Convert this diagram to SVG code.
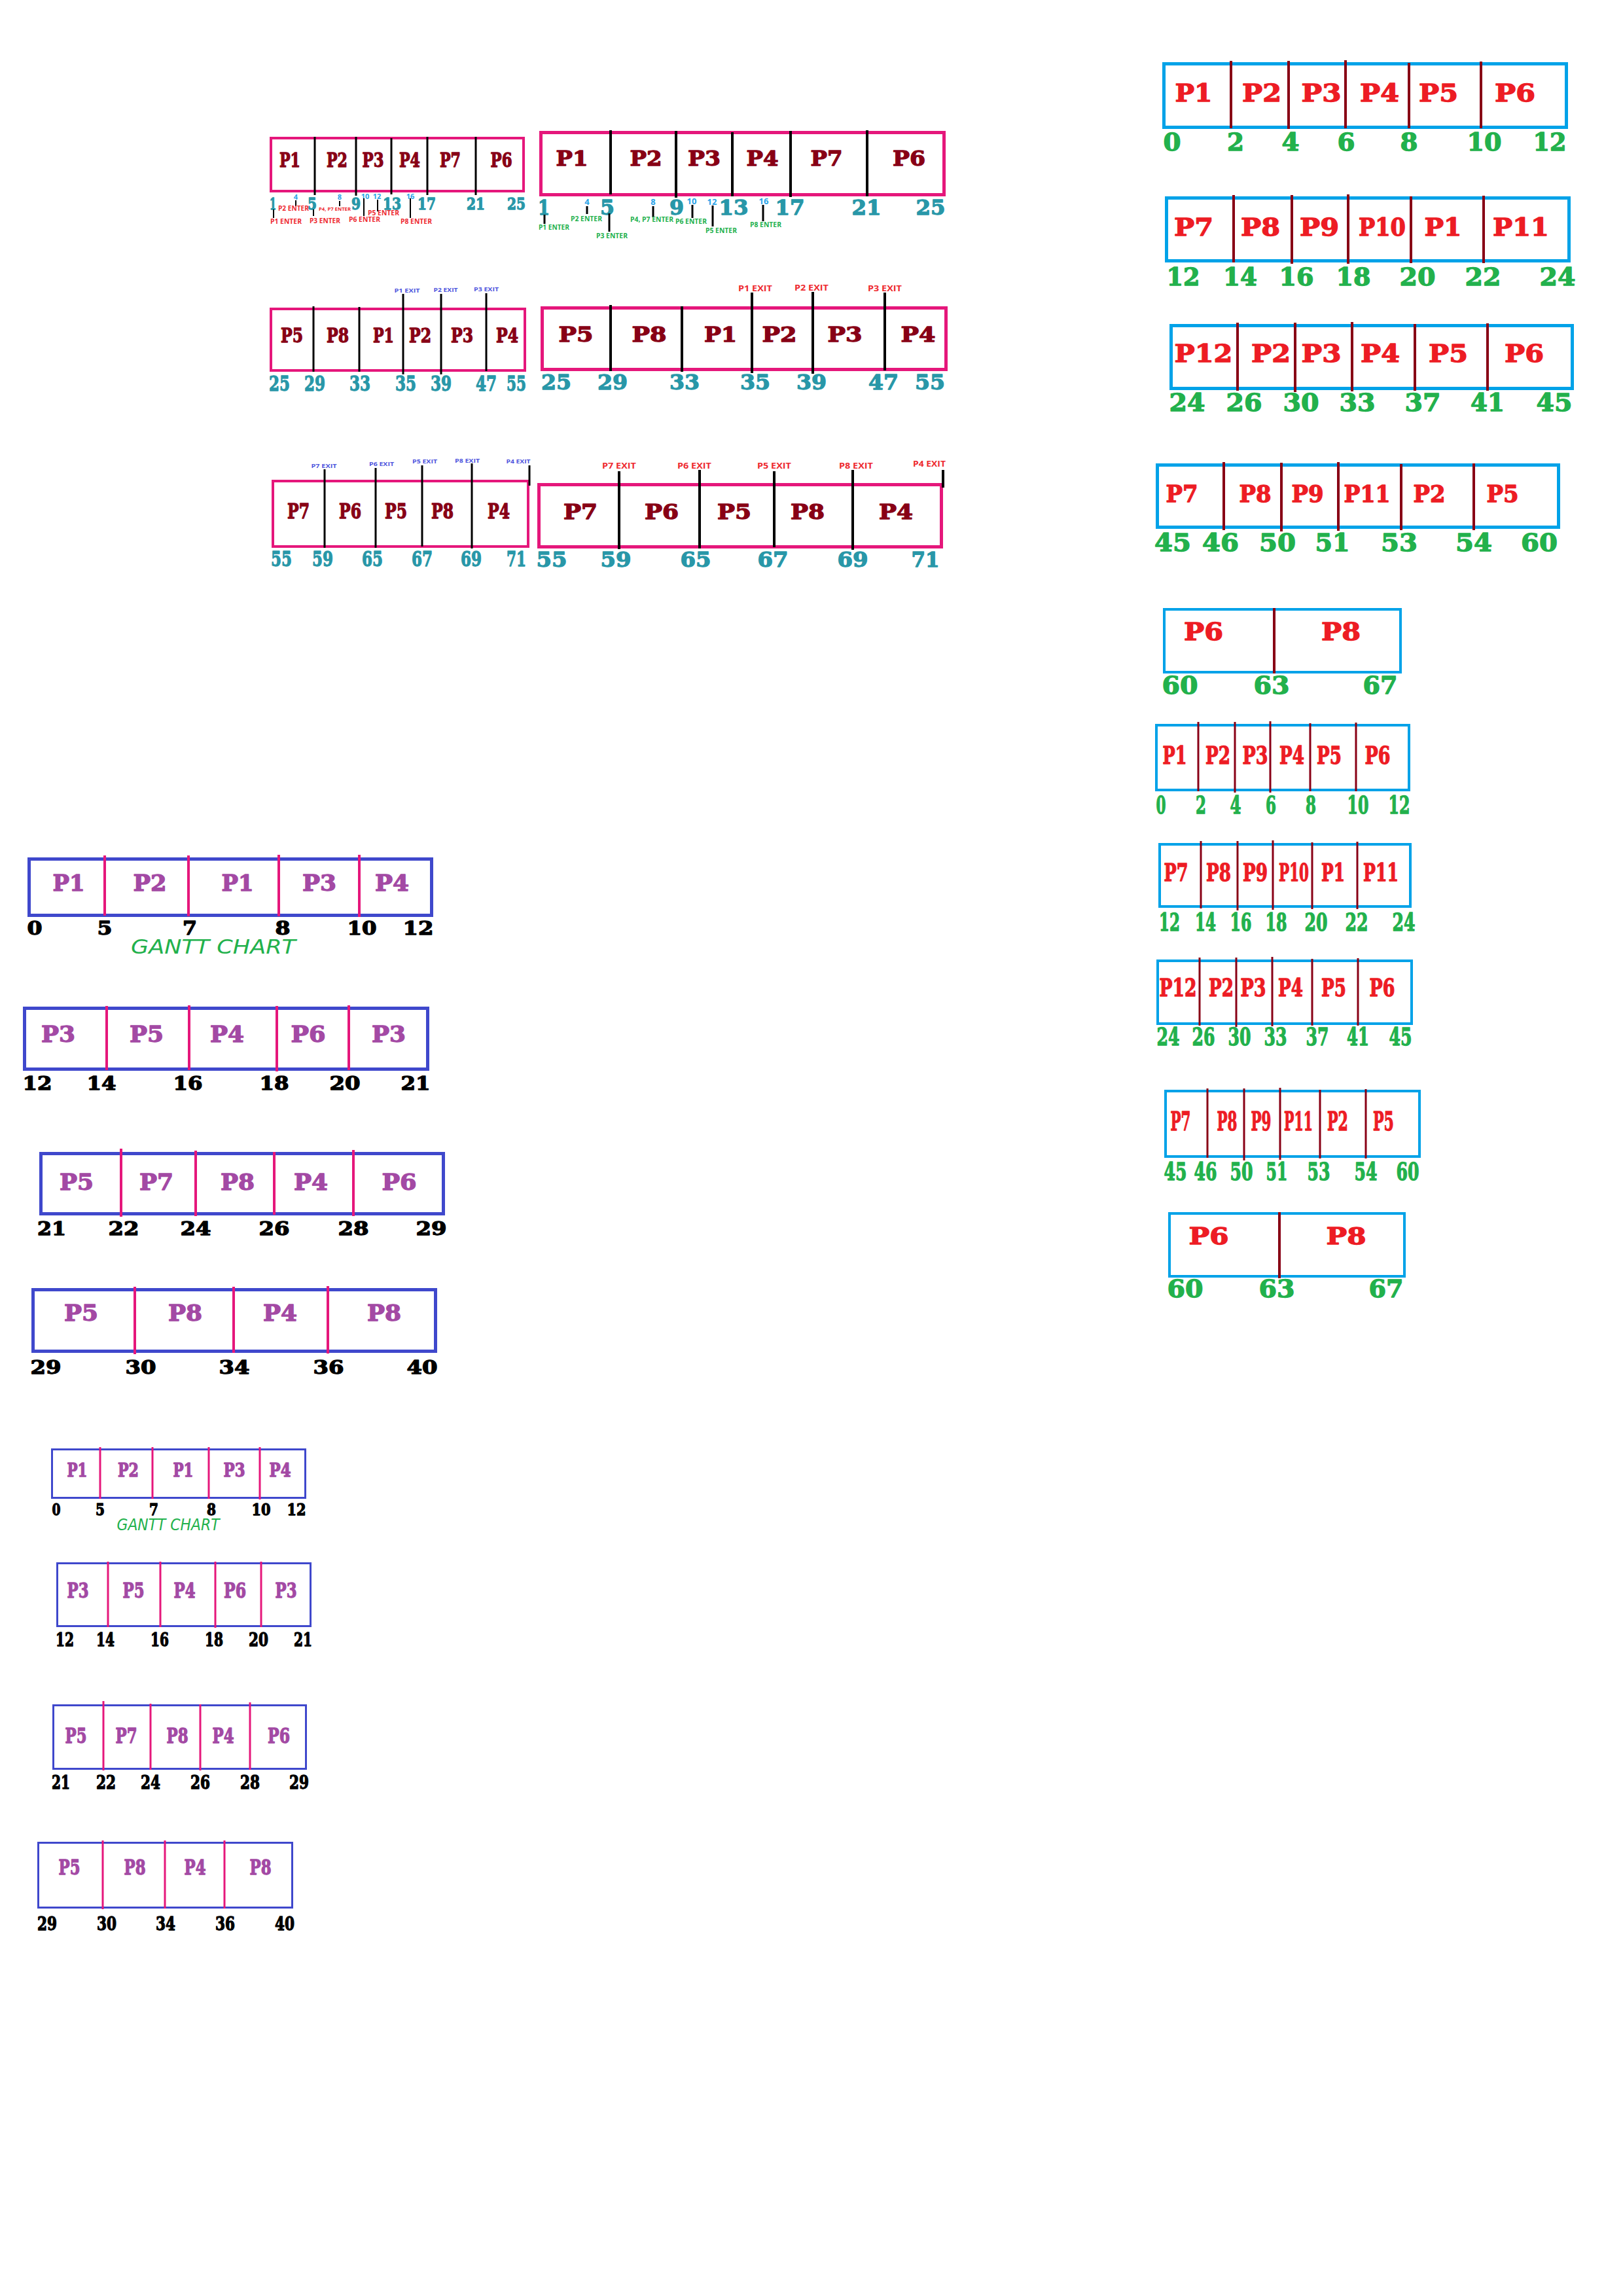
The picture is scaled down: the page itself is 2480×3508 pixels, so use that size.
<svg xmlns="http://www.w3.org/2000/svg" width="2480" height="3508" viewBox="0 0 2480 3508">
<style>
.L{font-family:"DejaVu Serif","Liberation Serif",serif;font-weight:bold;text-anchor:middle;stroke-width:1.3px;stroke-linejoin:round}
.S{font-family:"Open Sans","Liberation Sans",sans-serif;font-weight:bold}
.M{text-anchor:middle}
.H{font-family:"DejaVu Sans","Liberation Sans",sans-serif;font-style:italic;text-anchor:middle;fill:#22B14C}
.dr{fill:#880015}.rd{fill:#ED1C24}.pu{fill:#A349A4}.tl{fill:#2897A8}.gr{fill:#22B14C}.bk{fill:#000}
.L.dr{stroke:#880015}.L.rd{stroke:#ED1C24}.L.pu{stroke:#A349A4}.L.tl{stroke:#2897A8}.L.gr{stroke:#22B14C}.L.bk{stroke:#000}
.sb{fill:#2AA3E8}.er{fill:#EE2A30}.eb{fill:#4D55DD}
.pk{fill:#fff;stroke:#E5177B}.sky{fill:#fff;stroke:#00A2E8}.ind{fill:#fff;stroke:#3F48CC}
.blk{stroke:#000}.drl{stroke:#880015}.pkl{stroke:#E5177B}
</style>
<rect width="2480" height="3508" fill="#fff"/>

<g id="chartA">
<rect class="pk" x="414" y="211" width="386" height="81" stroke-width="4"/>
<g class="blk" stroke-width="3"><line x1="481" y1="209" x2="481" y2="298"/><line x1="544" y1="209" x2="544" y2="299"/><line x1="598" y1="211" x2="598" y2="297"/><line x1="653" y1="209" x2="653" y2="298"/><line x1="727" y1="209" x2="727" y2="298"/></g>
<g font-size="30">
<text class="L dr" x="443" y="255" textLength="32" lengthAdjust="spacingAndGlyphs">P1</text>
<text class="L dr" x="515" y="255" textLength="32" lengthAdjust="spacingAndGlyphs">P2</text>
<text class="L dr" x="570" y="255" textLength="33" lengthAdjust="spacingAndGlyphs">P3</text>
<text class="L dr" x="626" y="255" textLength="32" lengthAdjust="spacingAndGlyphs">P4</text>
<text class="L dr" x="688" y="255" textLength="32" lengthAdjust="spacingAndGlyphs">P7</text>
<text class="L dr" x="766" y="255" textLength="33" lengthAdjust="spacingAndGlyphs">P6</text>
</g>
<g font-size="25">
<text class="L tl" x="417" y="320" textLength="10" lengthAdjust="spacingAndGlyphs">1</text>
<text class="L tl" x="477" y="320" textLength="14" lengthAdjust="spacingAndGlyphs">5</text>
<text class="L tl" x="544" y="320" textLength="14" lengthAdjust="spacingAndGlyphs">9</text>
<text class="L tl" x="599" y="320" textLength="28" lengthAdjust="spacingAndGlyphs">13</text>
<text class="L tl" x="652" y="320" textLength="28" lengthAdjust="spacingAndGlyphs">17</text>
<text class="L tl" x="727" y="320" textLength="28" lengthAdjust="spacingAndGlyphs">21</text>
<text class="L tl" x="789" y="320" textLength="28" lengthAdjust="spacingAndGlyphs">25</text>
</g>
<g font-size="11" class="S sb">
<text class="M" x="452" y="305">4</text><text class="M" x="519" y="305">8</text><text class="M" x="558" y="304">10</text><text class="M" x="576" y="304">12</text><text class="M" x="627" y="304">16</text>
</g>
<g class="blk" stroke-width="2"><line x1="418" y1="320" x2="418" y2="333"/><line x1="452" y1="306" x2="452" y2="315"/><line x1="479" y1="320" x2="479" y2="330"/><line x1="519" y1="307" x2="519" y2="315"/><line x1="556" y1="303" x2="556" y2="330"/><line x1="577" y1="305" x2="577" y2="323"/><line x1="627" y1="303" x2="627" y2="333"/></g>
<g font-size="10" class="S er">
<text x="425" y="322" textLength="47" lengthAdjust="spacingAndGlyphs">P2 ENTER</text>
<text x="413" y="342" textLength="48" lengthAdjust="spacingAndGlyphs">P1 ENTER</text>
<text x="487" y="322" font-size="7" textLength="49" lengthAdjust="spacingAndGlyphs">P4, P7 ENTER</text>
<text x="473" y="341" textLength="47" lengthAdjust="spacingAndGlyphs">P3 ENTER</text>
<text x="533" y="339" textLength="48" lengthAdjust="spacingAndGlyphs">P6 ENTER</text>
<text x="562" y="329" textLength="48" lengthAdjust="spacingAndGlyphs">P5 ENTER</text>
<text x="612" y="342" textLength="48" lengthAdjust="spacingAndGlyphs">P8 ENTER</text>
</g>
</g>

<g id="chartB">
<rect class="pk" x="826.5" y="202.5" width="616" height="95" stroke-width="5"/>
<g class="blk" stroke-width="4"><line x1="933" y1="199" x2="933" y2="297"/><line x1="1033" y1="200" x2="1033" y2="302"/><line x1="1119" y1="202" x2="1119" y2="300"/><line x1="1208" y1="200" x2="1208" y2="301"/><line x1="1325" y1="199" x2="1325" y2="300"/></g>
<g font-size="32">
<text class="L dr" x="874" y="253" textLength="49" lengthAdjust="spacingAndGlyphs">P1</text>
<text class="L dr" x="987" y="253" textLength="49" lengthAdjust="spacingAndGlyphs">P2</text>
<text class="L dr" x="1076" y="253" textLength="50" lengthAdjust="spacingAndGlyphs">P3</text>
<text class="L dr" x="1165" y="253" textLength="49" lengthAdjust="spacingAndGlyphs">P4</text>
<text class="L dr" x="1263" y="253" textLength="49" lengthAdjust="spacingAndGlyphs">P7</text>
<text class="L dr" x="1389" y="253" textLength="50" lengthAdjust="spacingAndGlyphs">P6</text>
<text class="L tl" x="831" y="328" textLength="18" lengthAdjust="spacingAndGlyphs">1</text>
<text class="L tl" x="928" y="328" textLength="22" lengthAdjust="spacingAndGlyphs">5</text>
<text class="L tl" x="1034" y="328" textLength="22" lengthAdjust="spacingAndGlyphs">9</text>
<text class="L tl" x="1121" y="328" textLength="45" lengthAdjust="spacingAndGlyphs">13</text>
<text class="L tl" x="1207" y="328" textLength="45" lengthAdjust="spacingAndGlyphs">17</text>
<text class="L tl" x="1324" y="328" textLength="45" lengthAdjust="spacingAndGlyphs">21</text>
<text class="L tl" x="1422" y="328" textLength="45" lengthAdjust="spacingAndGlyphs">25</text>
</g>
<g font-size="13" class="S sb">
<text class="M" x="897" y="313">4</text><text class="M" x="998" y="313">8</text><text class="M" x="1057" y="312">10</text><text class="M" x="1088" y="313">12</text><text class="M" x="1167" y="312">16</text>
</g>
<g class="blk" stroke-width="3"><line x1="897" y1="315" x2="897" y2="327"/><line x1="832" y1="328" x2="832" y2="342"/><line x1="931" y1="326" x2="931" y2="354"/><line x1="998" y1="315" x2="998" y2="332"/><line x1="1058" y1="313" x2="1058" y2="333"/><line x1="1089" y1="314" x2="1089" y2="346"/><line x1="1166" y1="313" x2="1166" y2="338"/></g>
<g font-size="10" class="S gr">
<text x="823" y="351" textLength="47" lengthAdjust="spacingAndGlyphs">P1 ENTER</text>
<text x="872" y="338" textLength="48" lengthAdjust="spacingAndGlyphs">P2 ENTER</text>
<text x="911" y="364" textLength="48" lengthAdjust="spacingAndGlyphs">P3 ENTER</text>
<text x="963" y="339" textLength="66" lengthAdjust="spacingAndGlyphs">P4, P7 ENTER</text>
<text x="1032" y="342" textLength="48" lengthAdjust="spacingAndGlyphs">P6 ENTER</text>
<text x="1078" y="356" textLength="48" lengthAdjust="spacingAndGlyphs">P5 ENTER</text>
<text x="1146" y="347" textLength="48" lengthAdjust="spacingAndGlyphs">P8 ENTER</text>
</g>
</g>

<g id="chartC">
<rect class="pk" x="414" y="472" width="388" height="94" stroke-width="4"/>
<g class="blk" stroke-width="3"><line x1="479" y1="468" x2="479" y2="568"/><line x1="549" y1="469" x2="549" y2="568"/><line x1="616" y1="449" x2="616" y2="572"/><line x1="674" y1="449" x2="674" y2="572"/><line x1="743" y1="448" x2="743" y2="567"/></g>
<g font-size="30">
<text class="L dr" x="446" y="523" textLength="34" lengthAdjust="spacingAndGlyphs">P5</text>
<text class="L dr" x="516" y="523" textLength="34" lengthAdjust="spacingAndGlyphs">P8</text>
<text class="L dr" x="586" y="523" textLength="32" lengthAdjust="spacingAndGlyphs">P1</text>
<text class="L dr" x="642" y="523" textLength="34" lengthAdjust="spacingAndGlyphs">P2</text>
<text class="L dr" x="706" y="523" textLength="34" lengthAdjust="spacingAndGlyphs">P3</text>
<text class="L dr" x="775" y="523" textLength="34" lengthAdjust="spacingAndGlyphs">P4</text>
</g>
<g font-size="32">
<text class="L tl" x="427" y="597" textLength="32" lengthAdjust="spacingAndGlyphs">25</text>
<text class="L tl" x="481" y="597" textLength="32" lengthAdjust="spacingAndGlyphs">29</text>
<text class="L tl" x="550" y="597" textLength="32" lengthAdjust="spacingAndGlyphs">33</text>
<text class="L tl" x="620" y="597" textLength="32" lengthAdjust="spacingAndGlyphs">35</text>
<text class="L tl" x="674" y="597" textLength="32" lengthAdjust="spacingAndGlyphs">39</text>
<text class="L tl" x="743" y="597" textLength="32" lengthAdjust="spacingAndGlyphs">47</text>
<text class="L tl" x="789" y="597" textLength="30" lengthAdjust="spacingAndGlyphs">55</text>
</g>
<g font-size="9" class="S eb">
<text class="M" x="622" y="447" textLength="39" lengthAdjust="spacingAndGlyphs">P1 EXIT</text>
<text class="M" x="681" y="446" textLength="37" lengthAdjust="spacingAndGlyphs">P2 EXIT</text>
<text class="M" x="743" y="445" textLength="38" lengthAdjust="spacingAndGlyphs">P3 EXIT</text>
</g>
</g>

<g id="chartD">
<rect class="pk" x="828.5" y="470.5" width="617" height="94" stroke-width="5"/>
<g class="blk" stroke-width="4"><line x1="933" y1="466" x2="933" y2="567"/><line x1="1042" y1="468" x2="1042" y2="568"/><line x1="1149" y1="447" x2="1149" y2="570"/><line x1="1242" y1="446" x2="1242" y2="571"/><line x1="1352" y1="447" x2="1352" y2="566"/></g>
<g font-size="31">
<text class="L dr" x="880" y="522" textLength="53" lengthAdjust="spacingAndGlyphs">P5</text>
<text class="L dr" x="992" y="522" textLength="53" lengthAdjust="spacingAndGlyphs">P8</text>
<text class="L dr" x="1101" y="522" textLength="50" lengthAdjust="spacingAndGlyphs">P1</text>
<text class="L dr" x="1191" y="522" textLength="53" lengthAdjust="spacingAndGlyphs">P2</text>
<text class="L dr" x="1291" y="522" textLength="53" lengthAdjust="spacingAndGlyphs">P3</text>
<text class="L dr" x="1403" y="522" textLength="53" lengthAdjust="spacingAndGlyphs">P4</text>
</g>
<g font-size="32">
<text class="L tl" x="850" y="595" textLength="46" lengthAdjust="spacingAndGlyphs">25</text>
<text class="L tl" x="936" y="595" textLength="46" lengthAdjust="spacingAndGlyphs">29</text>
<text class="L tl" x="1046" y="595" textLength="46" lengthAdjust="spacingAndGlyphs">33</text>
<text class="L tl" x="1154" y="595" textLength="46" lengthAdjust="spacingAndGlyphs">35</text>
<text class="L tl" x="1240" y="595" textLength="46" lengthAdjust="spacingAndGlyphs">39</text>
<text class="L tl" x="1350" y="595" textLength="46" lengthAdjust="spacingAndGlyphs">47</text>
<text class="L tl" x="1421" y="595" textLength="46" lengthAdjust="spacingAndGlyphs">55</text>
</g>
<g font-size="12" class="S er">
<text class="M" x="1154" y="445" textLength="52" lengthAdjust="spacingAndGlyphs">P1 EXIT</text>
<text class="M" x="1240" y="444" textLength="52" lengthAdjust="spacingAndGlyphs">P2 EXIT</text>
<text class="M" x="1352" y="445" textLength="52" lengthAdjust="spacingAndGlyphs">P3 EXIT</text>
</g>
</g>

<g id="chartE">
<rect class="pk" x="417" y="735" width="390" height="100" stroke-width="4"/>
<g class="blk" stroke-width="3"><line x1="496" y1="717" x2="496" y2="837"/><line x1="574" y1="715" x2="574" y2="837"/><line x1="645" y1="711" x2="645" y2="835"/><line x1="721" y1="708" x2="721" y2="838"/><line x1="809" y1="711" x2="809" y2="742"/></g>
<g font-size="31">
<text class="L dr" x="456" y="792" textLength="34" lengthAdjust="spacingAndGlyphs">P7</text>
<text class="L dr" x="535" y="792" textLength="34" lengthAdjust="spacingAndGlyphs">P6</text>
<text class="L dr" x="605" y="792" textLength="34" lengthAdjust="spacingAndGlyphs">P5</text>
<text class="L dr" x="676" y="792" textLength="34" lengthAdjust="spacingAndGlyphs">P8</text>
<text class="L dr" x="762" y="792" textLength="34" lengthAdjust="spacingAndGlyphs">P4</text>
</g>
<g font-size="32">
<text class="L tl" x="430" y="865" textLength="32" lengthAdjust="spacingAndGlyphs">55</text>
<text class="L tl" x="493" y="865" textLength="32" lengthAdjust="spacingAndGlyphs">59</text>
<text class="L tl" x="569" y="865" textLength="32" lengthAdjust="spacingAndGlyphs">65</text>
<text class="L tl" x="645" y="865" textLength="32" lengthAdjust="spacingAndGlyphs">67</text>
<text class="L tl" x="720" y="865" textLength="32" lengthAdjust="spacingAndGlyphs">69</text>
<text class="L tl" x="789" y="865" textLength="30" lengthAdjust="spacingAndGlyphs">71</text>
</g>
<g font-size="9" class="S eb">
<text class="M" x="495" y="715" textLength="39" lengthAdjust="spacingAndGlyphs">P7 EXIT</text>
<text class="M" x="583" y="712" textLength="38" lengthAdjust="spacingAndGlyphs">P6 EXIT</text>
<text class="M" x="649" y="708" textLength="38" lengthAdjust="spacingAndGlyphs">P5 EXIT</text>
<text class="M" x="714" y="707" textLength="38" lengthAdjust="spacingAndGlyphs">P8 EXIT</text>
<text class="M" x="792" y="708" textLength="37" lengthAdjust="spacingAndGlyphs">P4 EXIT</text>
</g>
</g>

<g id="chartF">
<rect class="pk" x="823.5" y="740.5" width="615" height="95" stroke-width="5"/>
<g class="blk" stroke-width="4"><line x1="946" y1="720" x2="946" y2="839"/><line x1="1069" y1="718" x2="1069" y2="838"/><line x1="1183" y1="720" x2="1183" y2="836"/><line x1="1303" y1="718" x2="1303" y2="840"/><line x1="1441" y1="718" x2="1441" y2="745"/></g>
<g font-size="31">
<text class="L dr" x="887" y="793" textLength="52" lengthAdjust="spacingAndGlyphs">P7</text>
<text class="L dr" x="1011" y="793" textLength="52" lengthAdjust="spacingAndGlyphs">P6</text>
<text class="L dr" x="1122" y="793" textLength="52" lengthAdjust="spacingAndGlyphs">P5</text>
<text class="L dr" x="1234" y="793" textLength="52" lengthAdjust="spacingAndGlyphs">P8</text>
<text class="L dr" x="1369" y="793" textLength="52" lengthAdjust="spacingAndGlyphs">P4</text>
</g>
<g font-size="32">
<text class="L tl" x="843" y="866" textLength="47" lengthAdjust="spacingAndGlyphs">55</text>
<text class="L tl" x="941" y="866" textLength="47" lengthAdjust="spacingAndGlyphs">59</text>
<text class="L tl" x="1063" y="866" textLength="47" lengthAdjust="spacingAndGlyphs">65</text>
<text class="L tl" x="1181" y="866" textLength="47" lengthAdjust="spacingAndGlyphs">67</text>
<text class="L tl" x="1303" y="866" textLength="47" lengthAdjust="spacingAndGlyphs">69</text>
<text class="L tl" x="1414" y="866" textLength="43" lengthAdjust="spacingAndGlyphs">71</text>
</g>
<g font-size="12" class="S er">
<text class="M" x="946" y="716" textLength="52" lengthAdjust="spacingAndGlyphs">P7 EXIT</text>
<text class="M" x="1061" y="716" textLength="52" lengthAdjust="spacingAndGlyphs">P6 EXIT</text>
<text class="M" x="1183" y="716" textLength="52" lengthAdjust="spacingAndGlyphs">P5 EXIT</text>
<text class="M" x="1308" y="716" textLength="52" lengthAdjust="spacingAndGlyphs">P8 EXIT</text>
<text class="M" x="1420" y="713" textLength="50" lengthAdjust="spacingAndGlyphs">P4 EXIT</text>
</g>
</g>

<g id="chartR1">
<rect class="sky" x="1778.5" y="97.5" width="615" height="97" stroke-width="5"/>
<g class="drl" stroke-width="4"><line x1="1881" y1="93" x2="1881" y2="196"/><line x1="1969" y1="93" x2="1969" y2="197"/><line x1="2056" y1="92" x2="2056" y2="196"/><line x1="2153" y1="96" x2="2153" y2="196"/><line x1="2263" y1="94" x2="2263" y2="196"/></g>
<g font-size="38">
<text class="L rd" x="1824" y="155" textLength="57" lengthAdjust="spacingAndGlyphs">P1</text>
<text class="L rd" x="1928" y="155" textLength="60" lengthAdjust="spacingAndGlyphs">P2</text>
<text class="L rd" x="2019" y="155" textLength="61" lengthAdjust="spacingAndGlyphs">P3</text>
<text class="L rd" x="2108" y="155" textLength="60" lengthAdjust="spacingAndGlyphs">P4</text>
<text class="L rd" x="2198" y="155" textLength="60" lengthAdjust="spacingAndGlyphs">P5</text>
<text class="L rd" x="2315" y="155" textLength="62" lengthAdjust="spacingAndGlyphs">P6</text>
</g>
<g font-size="37">
<text class="L gr" x="1791" y="230" textLength="27" lengthAdjust="spacingAndGlyphs">0</text>
<text class="L gr" x="1888" y="230" textLength="26" lengthAdjust="spacingAndGlyphs">2</text>
<text class="L gr" x="1972" y="230" textLength="27" lengthAdjust="spacingAndGlyphs">4</text>
<text class="L gr" x="2057" y="230" textLength="27" lengthAdjust="spacingAndGlyphs">6</text>
<text class="L gr" x="2153" y="230" textLength="27" lengthAdjust="spacingAndGlyphs">8</text>
<text class="L gr" x="2268" y="230" textLength="53" lengthAdjust="spacingAndGlyphs">10</text>
<text class="L gr" x="2368" y="230" textLength="51" lengthAdjust="spacingAndGlyphs">12</text>
</g>
</g>

<g id="chartR2">
<rect class="sky" x="1782.5" y="302.5" width="615" height="96" stroke-width="5"/>
<g class="drl" stroke-width="4"><line x1="1885" y1="298" x2="1885" y2="401"/><line x1="1974" y1="298" x2="1974" y2="403"/><line x1="2060" y1="297" x2="2060" y2="403"/><line x1="2156" y1="300" x2="2156" y2="402"/><line x1="2267" y1="299" x2="2267" y2="402"/></g>
<g font-size="38">
<text class="L rd" x="1824" y="360" textLength="60" lengthAdjust="spacingAndGlyphs">P7</text>
<text class="L rd" x="1926" y="360" textLength="60" lengthAdjust="spacingAndGlyphs">P8</text>
<text class="L rd" x="2016" y="360" textLength="60" lengthAdjust="spacingAndGlyphs">P9</text>
<text class="L rd" x="2112" y="360" font-weight="normal" textLength="72" lengthAdjust="spacingAndGlyphs">P10</text>
<text class="L rd" x="2205" y="360" textLength="57" lengthAdjust="spacingAndGlyphs">P1</text>
<text class="L rd" x="2324" y="360" textLength="86" lengthAdjust="spacingAndGlyphs">P11</text>
</g>
<g font-size="37">
<text class="L gr" x="1808" y="436" textLength="51" lengthAdjust="spacingAndGlyphs">12</text>
<text class="L gr" x="1895" y="436" textLength="52" lengthAdjust="spacingAndGlyphs">14</text>
<text class="L gr" x="1981" y="436" textLength="53" lengthAdjust="spacingAndGlyphs">16</text>
<text class="L gr" x="2068" y="436" textLength="53" lengthAdjust="spacingAndGlyphs">18</text>
<text class="L gr" x="2166" y="436" textLength="55" lengthAdjust="spacingAndGlyphs">20</text>
<text class="L gr" x="2266" y="436" textLength="55" lengthAdjust="spacingAndGlyphs">22</text>
<text class="L gr" x="2380" y="436" textLength="55" lengthAdjust="spacingAndGlyphs">24</text>
</g>
</g>

<g id="chartR3">
<rect class="sky" x="1789.5" y="497.5" width="613" height="96" stroke-width="5"/>
<g class="drl" stroke-width="4"><line x1="1891" y1="493" x2="1891" y2="597"/><line x1="1979" y1="493" x2="1979" y2="599"/><line x1="2066" y1="492" x2="2066" y2="598"/><line x1="2162" y1="495" x2="2162" y2="597"/><line x1="2273" y1="494" x2="2273" y2="597"/></g>
<g font-size="38">
<text class="L rd" x="1839" y="553" textLength="89" lengthAdjust="spacingAndGlyphs">P12</text>
<text class="L rd" x="1942" y="553" textLength="60" lengthAdjust="spacingAndGlyphs">P2</text>
<text class="L rd" x="2019" y="553" textLength="61" lengthAdjust="spacingAndGlyphs">P3</text>
<text class="L rd" x="2109" y="553" textLength="60" lengthAdjust="spacingAndGlyphs">P4</text>
<text class="L rd" x="2213" y="553" textLength="60" lengthAdjust="spacingAndGlyphs">P5</text>
<text class="L rd" x="2329" y="553" textLength="60" lengthAdjust="spacingAndGlyphs">P6</text>
</g>
<g font-size="37">
<text class="L gr" x="1814" y="628" textLength="55" lengthAdjust="spacingAndGlyphs">24</text>
<text class="L gr" x="1901" y="628" textLength="55" lengthAdjust="spacingAndGlyphs">26</text>
<text class="L gr" x="1988" y="628" textLength="55" lengthAdjust="spacingAndGlyphs">30</text>
<text class="L gr" x="2074" y="628" textLength="55" lengthAdjust="spacingAndGlyphs">33</text>
<text class="L gr" x="2174" y="628" textLength="55" lengthAdjust="spacingAndGlyphs">37</text>
<text class="L gr" x="2273" y="628" textLength="52" lengthAdjust="spacingAndGlyphs">41</text>
<text class="L gr" x="2375" y="628" textLength="55" lengthAdjust="spacingAndGlyphs">45</text>
</g>
</g>

<g id="chartR4">
<rect class="sky" x="1768.5" y="710.5" width="613" height="95" stroke-width="5"/>
<g class="drl" stroke-width="4"><line x1="1870" y1="706" x2="1870" y2="810"/><line x1="1958" y1="707" x2="1958" y2="812"/><line x1="2045" y1="706" x2="2045" y2="811"/><line x1="2141" y1="709" x2="2141" y2="810"/><line x1="2252" y1="708" x2="2252" y2="810"/></g>
<g font-size="36">
<text class="L rd" x="1806" y="767" textLength="49" lengthAdjust="spacingAndGlyphs">P7</text>
<text class="L rd" x="1918" y="767" textLength="49" lengthAdjust="spacingAndGlyphs">P8</text>
<text class="L rd" x="1998" y="767" textLength="49" lengthAdjust="spacingAndGlyphs">P9</text>
<text class="L rd" x="2089" y="767" textLength="71" lengthAdjust="spacingAndGlyphs">P11</text>
<text class="L rd" x="2184" y="767" textLength="49" lengthAdjust="spacingAndGlyphs">P2</text>
<text class="L rd" x="2296" y="767" textLength="49" lengthAdjust="spacingAndGlyphs">P5</text>
</g>
<g font-size="37">
<text class="L gr" x="1792" y="842" textLength="56" lengthAdjust="spacingAndGlyphs">45</text>
<text class="L gr" x="1865" y="842" textLength="56" lengthAdjust="spacingAndGlyphs">46</text>
<text class="L gr" x="1952" y="842" textLength="56" lengthAdjust="spacingAndGlyphs">50</text>
<text class="L gr" x="2036" y="842" textLength="53" lengthAdjust="spacingAndGlyphs">51</text>
<text class="L gr" x="2138" y="842" textLength="56" lengthAdjust="spacingAndGlyphs">53</text>
<text class="L gr" x="2252" y="842" textLength="56" lengthAdjust="spacingAndGlyphs">54</text>
<text class="L gr" x="2352" y="842" textLength="56" lengthAdjust="spacingAndGlyphs">60</text>
</g>
</g>

<g id="chartR5">
<rect class="sky" x="1779" y="931" width="361" height="96" stroke-width="4"/>
<line class="drl" stroke-width="4" x1="1947" y1="929" x2="1947" y2="1029"/>
<g font-size="37">
<text class="L rd" x="1839" y="978" textLength="60" lengthAdjust="spacingAndGlyphs">P6</text>
<text class="L rd" x="2049" y="978" textLength="60" lengthAdjust="spacingAndGlyphs">P8</text>
<text class="L gr" x="1803" y="1060" textLength="55" lengthAdjust="spacingAndGlyphs">60</text>
<text class="L gr" x="1943" y="1060" textLength="55" lengthAdjust="spacingAndGlyphs">63</text>
<text class="L gr" x="2109" y="1060" textLength="53" lengthAdjust="spacingAndGlyphs">67</text>
</g>
</g>

<g id="chartR6">
<rect class="sky" x="1767" y="1108" width="386" height="99" stroke-width="4"/>
<g class="drl" stroke-width="3"><line x1="1831" y1="1103" x2="1831" y2="1209"/><line x1="1887" y1="1103" x2="1887" y2="1211"/><line x1="1941" y1="1102" x2="1941" y2="1211"/><line x1="2002" y1="1105" x2="2002" y2="1209"/><line x1="2072" y1="1104" x2="2072" y2="1209"/></g>
<g font-size="37">
<text class="L rd" x="1795" y="1167" textLength="37" lengthAdjust="spacingAndGlyphs">P1</text>
<text class="L rd" x="1861" y="1167" textLength="38" lengthAdjust="spacingAndGlyphs">P2</text>
<text class="L rd" x="1918" y="1167" textLength="39" lengthAdjust="spacingAndGlyphs">P3</text>
<text class="L rd" x="1974" y="1167" textLength="38" lengthAdjust="spacingAndGlyphs">P4</text>
<text class="L rd" x="2031" y="1167" textLength="38" lengthAdjust="spacingAndGlyphs">P5</text>
<text class="L rd" x="2105" y="1167" textLength="39" lengthAdjust="spacingAndGlyphs">P6</text>
<text class="L gr" x="1774" y="1243" textLength="15" lengthAdjust="spacingAndGlyphs">0</text>
<text class="L gr" x="1835" y="1243" textLength="16" lengthAdjust="spacingAndGlyphs">2</text>
<text class="L gr" x="1888" y="1243" textLength="17" lengthAdjust="spacingAndGlyphs">4</text>
<text class="L gr" x="1942" y="1243" textLength="16" lengthAdjust="spacingAndGlyphs">6</text>
<text class="L gr" x="2003" y="1243" textLength="16" lengthAdjust="spacingAndGlyphs">8</text>
<text class="L gr" x="2075" y="1243" textLength="33" lengthAdjust="spacingAndGlyphs">10</text>
<text class="L gr" x="2138" y="1243" textLength="33" lengthAdjust="spacingAndGlyphs">12</text>
</g>
</g>

<g id="chartR7">
<rect class="sky" x="1772" y="1290" width="383" height="95" stroke-width="4"/>
<g class="drl" stroke-width="3"><line x1="1835" y1="1285" x2="1835" y2="1388"/><line x1="1891" y1="1285" x2="1891" y2="1391"/><line x1="1945" y1="1284" x2="1945" y2="1390"/><line x1="2005" y1="1287" x2="2005" y2="1389"/><line x1="2074" y1="1286" x2="2074" y2="1389"/></g>
<g font-size="37">
<text class="L rd" x="1797" y="1346" textLength="37" lengthAdjust="spacingAndGlyphs">P7</text>
<text class="L rd" x="1862" y="1346" textLength="38" lengthAdjust="spacingAndGlyphs">P8</text>
<text class="L rd" x="1918" y="1346" textLength="38" lengthAdjust="spacingAndGlyphs">P9</text>
<text class="L rd" x="1977" y="1346" font-weight="normal" textLength="46" lengthAdjust="spacingAndGlyphs">P10</text>
<text class="L rd" x="2037" y="1346" textLength="36" lengthAdjust="spacingAndGlyphs">P1</text>
<text class="L rd" x="2110" y="1346" textLength="54" lengthAdjust="spacingAndGlyphs">P11</text>
<text class="L gr" x="1787" y="1422" textLength="32" lengthAdjust="spacingAndGlyphs">12</text>
<text class="L gr" x="1842" y="1422" textLength="32" lengthAdjust="spacingAndGlyphs">14</text>
<text class="L gr" x="1896" y="1422" textLength="33" lengthAdjust="spacingAndGlyphs">16</text>
<text class="L gr" x="1950" y="1422" textLength="33" lengthAdjust="spacingAndGlyphs">18</text>
<text class="L gr" x="2011" y="1422" textLength="35" lengthAdjust="spacingAndGlyphs">20</text>
<text class="L gr" x="2073" y="1422" textLength="35" lengthAdjust="spacingAndGlyphs">22</text>
<text class="L gr" x="2145" y="1422" textLength="35" lengthAdjust="spacingAndGlyphs">24</text>
</g>
</g>

<g id="chartR8">
<rect class="sky" x="1769" y="1468" width="388" height="96" stroke-width="4"/>
<g class="drl" stroke-width="3"><line x1="1833" y1="1463" x2="1833" y2="1567"/><line x1="1889" y1="1463" x2="1889" y2="1569"/><line x1="1944" y1="1462" x2="1944" y2="1568"/><line x1="2005" y1="1465" x2="2005" y2="1567"/><line x1="2075" y1="1464" x2="2075" y2="1567"/></g>
<g font-size="37">
<text class="L rd" x="1800" y="1522" textLength="57" lengthAdjust="spacingAndGlyphs">P12</text>
<text class="L rd" x="1866" y="1522" textLength="38" lengthAdjust="spacingAndGlyphs">P2</text>
<text class="L rd" x="1915" y="1522" textLength="39" lengthAdjust="spacingAndGlyphs">P3</text>
<text class="L rd" x="1972" y="1522" textLength="38" lengthAdjust="spacingAndGlyphs">P4</text>
<text class="L rd" x="2038" y="1522" textLength="38" lengthAdjust="spacingAndGlyphs">P5</text>
<text class="L rd" x="2112" y="1522" textLength="39" lengthAdjust="spacingAndGlyphs">P6</text>
<text class="L gr" x="1785" y="1597" textLength="35" lengthAdjust="spacingAndGlyphs">24</text>
<text class="L gr" x="1839" y="1597" textLength="35" lengthAdjust="spacingAndGlyphs">26</text>
<text class="L gr" x="1894" y="1597" textLength="35" lengthAdjust="spacingAndGlyphs">30</text>
<text class="L gr" x="1949" y="1597" textLength="35" lengthAdjust="spacingAndGlyphs">33</text>
<text class="L gr" x="2013" y="1597" textLength="35" lengthAdjust="spacingAndGlyphs">37</text>
<text class="L gr" x="2075" y="1597" textLength="34" lengthAdjust="spacingAndGlyphs">41</text>
<text class="L gr" x="2140" y="1597" textLength="35" lengthAdjust="spacingAndGlyphs">45</text>
</g>
</g>

<g id="chartR9">
<rect class="sky" x="1781" y="1667" width="388" height="100" stroke-width="4"/>
<g class="drl" stroke-width="3"><line x1="1845" y1="1663" x2="1845" y2="1769"/><line x1="1901" y1="1663" x2="1901" y2="1773"/><line x1="1956" y1="1662" x2="1956" y2="1772"/><line x1="2017" y1="1665" x2="2017" y2="1770"/><line x1="2087" y1="1664" x2="2087" y2="1770"/></g>
<g font-size="40">
<text class="L rd" x="1804" y="1727" textLength="31" lengthAdjust="spacingAndGlyphs">P7</text>
<text class="L rd" x="1875" y="1727" textLength="31" lengthAdjust="spacingAndGlyphs">P8</text>
<text class="L rd" x="1927" y="1727" textLength="31" lengthAdjust="spacingAndGlyphs">P9</text>
<text class="L rd" x="1984" y="1727" textLength="44" lengthAdjust="spacingAndGlyphs">P11</text>
<text class="L rd" x="2044" y="1727" textLength="32" lengthAdjust="spacingAndGlyphs">P2</text>
<text class="L rd" x="2114" y="1727" textLength="32" lengthAdjust="spacingAndGlyphs">P5</text>
</g>
<g font-size="37">
<text class="L gr" x="1796" y="1803" textLength="35" lengthAdjust="spacingAndGlyphs">45</text>
<text class="L gr" x="1842" y="1803" textLength="35" lengthAdjust="spacingAndGlyphs">46</text>
<text class="L gr" x="1897" y="1803" textLength="35" lengthAdjust="spacingAndGlyphs">50</text>
<text class="L gr" x="1951" y="1803" textLength="33" lengthAdjust="spacingAndGlyphs">51</text>
<text class="L gr" x="2015" y="1803" textLength="35" lengthAdjust="spacingAndGlyphs">53</text>
<text class="L gr" x="2087" y="1803" textLength="35" lengthAdjust="spacingAndGlyphs">54</text>
<text class="L gr" x="2151" y="1803" textLength="35" lengthAdjust="spacingAndGlyphs">60</text>
</g>
</g>

<g id="chartR10">
<rect class="sky" x="1787" y="1854" width="359" height="96" stroke-width="4"/>
<line class="drl" stroke-width="4" x1="1955" y1="1852" x2="1955" y2="1953"/>
<g font-size="36">
<text class="L rd" x="1847" y="1901" textLength="61" lengthAdjust="spacingAndGlyphs">P6</text>
<text class="L rd" x="2057" y="1901" textLength="61" lengthAdjust="spacingAndGlyphs">P8</text>
</g>
<g font-size="37">
<text class="L gr" x="1811" y="1982" textLength="55" lengthAdjust="spacingAndGlyphs">60</text>
<text class="L gr" x="1951" y="1982" textLength="55" lengthAdjust="spacingAndGlyphs">63</text>
<text class="L gr" x="2118" y="1982" textLength="53" lengthAdjust="spacingAndGlyphs">67</text>
</g>
</g>

<g id="chartL1">
<rect class="ind" x="44.5" y="1312.5" width="615" height="86" stroke-width="5"/>
<g class="pkl" stroke-width="4"><line x1="160" y1="1307" x2="160" y2="1399"/><line x1="288" y1="1307" x2="288" y2="1400"/><line x1="426" y1="1306" x2="426" y2="1400"/><line x1="549" y1="1306" x2="549" y2="1401"/></g>
<g font-size="33">
<text class="L pu" x="105" y="1361" textLength="49" lengthAdjust="spacingAndGlyphs">P1</text>
<text class="L pu" x="229" y="1361" textLength="51" lengthAdjust="spacingAndGlyphs">P2</text>
<text class="L pu" x="363" y="1361" textLength="49" lengthAdjust="spacingAndGlyphs">P1</text>
<text class="L pu" x="488" y="1361" textLength="52" lengthAdjust="spacingAndGlyphs">P3</text>
<text class="L pu" x="599" y="1361" textLength="52" lengthAdjust="spacingAndGlyphs">P4</text>
</g>
<g font-size="28">
<text class="L bk" x="53" y="1428" textLength="23" lengthAdjust="spacingAndGlyphs">0</text>
<text class="L bk" x="160" y="1428" textLength="23" lengthAdjust="spacingAndGlyphs">5</text>
<text class="L bk" x="290" y="1428" textLength="22" lengthAdjust="spacingAndGlyphs">7</text>
<text class="L bk" x="432" y="1428" textLength="23" lengthAdjust="spacingAndGlyphs">8</text>
<text class="L bk" x="553" y="1428" textLength="45" lengthAdjust="spacingAndGlyphs">10</text>
<text class="L bk" x="639" y="1428" textLength="47" lengthAdjust="spacingAndGlyphs">12</text>
</g>
<text class="H" x="326" y="1457" font-size="30" textLength="252" lengthAdjust="spacingAndGlyphs">GANTT CHART</text>
</g>

<g id="chartL2">
<rect class="ind" x="37.5" y="1540.5" width="616" height="93" stroke-width="5"/>
<g class="pkl" stroke-width="4"><line x1="163" y1="1537" x2="163" y2="1635"/><line x1="289" y1="1536" x2="289" y2="1635"/><line x1="423" y1="1537" x2="423" y2="1637"/><line x1="533" y1="1536" x2="533" y2="1635"/></g>
<g font-size="33">
<text class="L pu" x="89" y="1592" textLength="52" lengthAdjust="spacingAndGlyphs">P3</text>
<text class="L pu" x="224" y="1592" textLength="52" lengthAdjust="spacingAndGlyphs">P5</text>
<text class="L pu" x="347" y="1592" textLength="52" lengthAdjust="spacingAndGlyphs">P4</text>
<text class="L pu" x="471" y="1592" textLength="53" lengthAdjust="spacingAndGlyphs">P6</text>
<text class="L pu" x="594" y="1592" textLength="52" lengthAdjust="spacingAndGlyphs">P3</text>
</g>
<g font-size="28">
<text class="L bk" x="57" y="1665" textLength="45" lengthAdjust="spacingAndGlyphs">12</text>
<text class="L bk" x="155" y="1665" textLength="45" lengthAdjust="spacingAndGlyphs">14</text>
<text class="L bk" x="287" y="1665" textLength="45" lengthAdjust="spacingAndGlyphs">16</text>
<text class="L bk" x="419" y="1665" textLength="45" lengthAdjust="spacingAndGlyphs">18</text>
<text class="L bk" x="527" y="1665" textLength="47" lengthAdjust="spacingAndGlyphs">20</text>
<text class="L bk" x="635" y="1665" textLength="45" lengthAdjust="spacingAndGlyphs">21</text>
</g>
</g>

<g id="chartL3">
<rect class="ind" x="62.5" y="1762.5" width="615" height="92" stroke-width="5"/>
<g class="pkl" stroke-width="4"><line x1="185" y1="1755" x2="185" y2="1859"/><line x1="299" y1="1758" x2="299" y2="1858"/><line x1="419" y1="1760" x2="419" y2="1856"/><line x1="540" y1="1757" x2="540" y2="1858"/></g>
<g font-size="33">
<text class="L pu" x="117" y="1818" textLength="52" lengthAdjust="spacingAndGlyphs">P5</text>
<text class="L pu" x="239" y="1818" textLength="52" lengthAdjust="spacingAndGlyphs">P7</text>
<text class="L pu" x="363" y="1818" textLength="52" lengthAdjust="spacingAndGlyphs">P8</text>
<text class="L pu" x="475" y="1818" textLength="52" lengthAdjust="spacingAndGlyphs">P4</text>
<text class="L pu" x="610" y="1818" textLength="53" lengthAdjust="spacingAndGlyphs">P6</text>
</g>
<g font-size="28">
<text class="L bk" x="79" y="1887" textLength="44" lengthAdjust="spacingAndGlyphs">21</text>
<text class="L bk" x="189" y="1887" textLength="47" lengthAdjust="spacingAndGlyphs">22</text>
<text class="L bk" x="299" y="1887" textLength="47" lengthAdjust="spacingAndGlyphs">24</text>
<text class="L bk" x="419" y="1887" textLength="47" lengthAdjust="spacingAndGlyphs">26</text>
<text class="L bk" x="540" y="1887" textLength="47" lengthAdjust="spacingAndGlyphs">28</text>
<text class="L bk" x="659" y="1887" textLength="47" lengthAdjust="spacingAndGlyphs">29</text>
</g>
</g>

<g id="chartL4">
<rect class="ind" x="50.5" y="1970.5" width="615" height="94" stroke-width="5"/>
<g class="pkl" stroke-width="4"><line x1="206" y1="1966" x2="206" y2="2069"/><line x1="357" y1="1966" x2="357" y2="2067"/><line x1="501" y1="1965" x2="501" y2="2068"/></g>
<g font-size="33">
<text class="L pu" x="124" y="2018" textLength="52" lengthAdjust="spacingAndGlyphs">P5</text>
<text class="L pu" x="283" y="2018" textLength="52" lengthAdjust="spacingAndGlyphs">P8</text>
<text class="L pu" x="428" y="2018" textLength="52" lengthAdjust="spacingAndGlyphs">P4</text>
<text class="L pu" x="587" y="2018" textLength="52" lengthAdjust="spacingAndGlyphs">P8</text>
</g>
<g font-size="28">
<text class="L bk" x="70" y="2099" textLength="47" lengthAdjust="spacingAndGlyphs">29</text>
<text class="L bk" x="215" y="2099" textLength="47" lengthAdjust="spacingAndGlyphs">30</text>
<text class="L bk" x="358" y="2099" textLength="47" lengthAdjust="spacingAndGlyphs">34</text>
<text class="L bk" x="502" y="2099" textLength="47" lengthAdjust="spacingAndGlyphs">36</text>
<text class="L bk" x="645" y="2099" textLength="47" lengthAdjust="spacingAndGlyphs">40</text>
</g>
</g>

<g id="chartS1">
<rect class="ind" x="79.5" y="2214.5" width="387" height="74" stroke-width="3"/>
<g class="pkl" stroke-width="3"><line x1="153" y1="2211" x2="153" y2="2290"/><line x1="233" y1="2211" x2="233" y2="2290"/><line x1="319" y1="2211" x2="319" y2="2290"/><line x1="397" y1="2211" x2="397" y2="2291"/></g>
<g font-size="27">
<text class="L pu" x="118" y="2256" textLength="31" lengthAdjust="spacingAndGlyphs">P1</text>
<text class="L pu" x="196" y="2256" textLength="32" lengthAdjust="spacingAndGlyphs">P2</text>
<text class="L pu" x="280" y="2256" textLength="31" lengthAdjust="spacingAndGlyphs">P1</text>
<text class="L pu" x="358" y="2256" textLength="33" lengthAdjust="spacingAndGlyphs">P3</text>
<text class="L pu" x="428" y="2256" textLength="33" lengthAdjust="spacingAndGlyphs">P4</text>
</g>
<g font-size="25">
<text class="L bk" x="86" y="2315" textLength="13" lengthAdjust="spacingAndGlyphs">0</text>
<text class="L bk" x="153" y="2315" textLength="14" lengthAdjust="spacingAndGlyphs">5</text>
<text class="L bk" x="235" y="2315" textLength="14" lengthAdjust="spacingAndGlyphs">7</text>
<text class="L bk" x="323" y="2315" textLength="14" lengthAdjust="spacingAndGlyphs">8</text>
<text class="L bk" x="399" y="2315" textLength="29" lengthAdjust="spacingAndGlyphs">10</text>
<text class="L bk" x="453" y="2315" textLength="29" lengthAdjust="spacingAndGlyphs">12</text>
</g>
<text class="H" x="257" y="2338" font-size="24" textLength="157" lengthAdjust="spacingAndGlyphs">GANTT CHART</text>
</g>

<g id="chartS2">
<rect class="ind" x="87.5" y="2388.5" width="387" height="96" stroke-width="3"/>
<g class="pkl" stroke-width="3"><line x1="165" y1="2386" x2="165" y2="2486"/><line x1="245" y1="2386" x2="245" y2="2486"/><line x1="329" y1="2386" x2="329" y2="2487"/><line x1="399" y1="2386" x2="399" y2="2486"/></g>
<g font-size="31">
<text class="L pu" x="119" y="2441" textLength="33" lengthAdjust="spacingAndGlyphs">P3</text>
<text class="L pu" x="204" y="2441" textLength="33" lengthAdjust="spacingAndGlyphs">P5</text>
<text class="L pu" x="282" y="2441" textLength="33" lengthAdjust="spacingAndGlyphs">P4</text>
<text class="L pu" x="359" y="2441" textLength="34" lengthAdjust="spacingAndGlyphs">P6</text>
<text class="L pu" x="437" y="2441" textLength="33" lengthAdjust="spacingAndGlyphs">P3</text>
</g>
<g font-size="28">
<text class="L bk" x="99" y="2515" textLength="28" lengthAdjust="spacingAndGlyphs">12</text>
<text class="L bk" x="161" y="2515" textLength="28" lengthAdjust="spacingAndGlyphs">14</text>
<text class="L bk" x="244" y="2515" textLength="28" lengthAdjust="spacingAndGlyphs">16</text>
<text class="L bk" x="327" y="2515" textLength="28" lengthAdjust="spacingAndGlyphs">18</text>
<text class="L bk" x="395" y="2515" textLength="30" lengthAdjust="spacingAndGlyphs">20</text>
<text class="L bk" x="463" y="2515" textLength="28" lengthAdjust="spacingAndGlyphs">21</text>
</g>
</g>

<g id="chartS3">
<rect class="ind" x="81.5" y="2605.5" width="386" height="97" stroke-width="3"/>
<g class="pkl" stroke-width="3"><line x1="158" y1="2599" x2="158" y2="2705"/><line x1="230" y1="2603" x2="230" y2="2704"/><line x1="306" y1="2604" x2="306" y2="2705"/><line x1="382" y1="2601" x2="382" y2="2704"/></g>
<g font-size="31">
<text class="L pu" x="116" y="2663" textLength="33" lengthAdjust="spacingAndGlyphs">P5</text>
<text class="L pu" x="193" y="2663" textLength="33" lengthAdjust="spacingAndGlyphs">P7</text>
<text class="L pu" x="271" y="2663" textLength="33" lengthAdjust="spacingAndGlyphs">P8</text>
<text class="L pu" x="341" y="2663" textLength="33" lengthAdjust="spacingAndGlyphs">P4</text>
<text class="L pu" x="426" y="2663" textLength="34" lengthAdjust="spacingAndGlyphs">P6</text>
</g>
<g font-size="28">
<text class="L bk" x="93" y="2733" textLength="28" lengthAdjust="spacingAndGlyphs">21</text>
<text class="L bk" x="162" y="2733" textLength="30" lengthAdjust="spacingAndGlyphs">22</text>
<text class="L bk" x="230" y="2733" textLength="30" lengthAdjust="spacingAndGlyphs">24</text>
<text class="L bk" x="306" y="2733" textLength="30" lengthAdjust="spacingAndGlyphs">26</text>
<text class="L bk" x="382" y="2733" textLength="30" lengthAdjust="spacingAndGlyphs">28</text>
<text class="L bk" x="457" y="2733" textLength="30" lengthAdjust="spacingAndGlyphs">29</text>
</g>
</g>

<g id="chartS4">
<rect class="ind" x="58.5" y="2815.5" width="388" height="99" stroke-width="3"/>
<g class="pkl" stroke-width="3"><line x1="157" y1="2812" x2="157" y2="2917"/><line x1="252" y1="2812" x2="252" y2="2916"/><line x1="343" y1="2812" x2="343" y2="2916"/></g>
<g font-size="31">
<text class="L pu" x="106" y="2864" textLength="33" lengthAdjust="spacingAndGlyphs">P5</text>
<text class="L pu" x="206" y="2864" textLength="33" lengthAdjust="spacingAndGlyphs">P8</text>
<text class="L pu" x="298" y="2864" textLength="33" lengthAdjust="spacingAndGlyphs">P4</text>
<text class="L pu" x="398" y="2864" textLength="33" lengthAdjust="spacingAndGlyphs">P8</text>
</g>
<g font-size="28">
<text class="L bk" x="72" y="2949" textLength="30" lengthAdjust="spacingAndGlyphs">29</text>
<text class="L bk" x="163" y="2949" textLength="30" lengthAdjust="spacingAndGlyphs">30</text>
<text class="L bk" x="253" y="2949" textLength="30" lengthAdjust="spacingAndGlyphs">34</text>
<text class="L bk" x="344" y="2949" textLength="30" lengthAdjust="spacingAndGlyphs">36</text>
<text class="L bk" x="435" y="2949" textLength="30" lengthAdjust="spacingAndGlyphs">40</text>
</g>
</g>
</svg>
